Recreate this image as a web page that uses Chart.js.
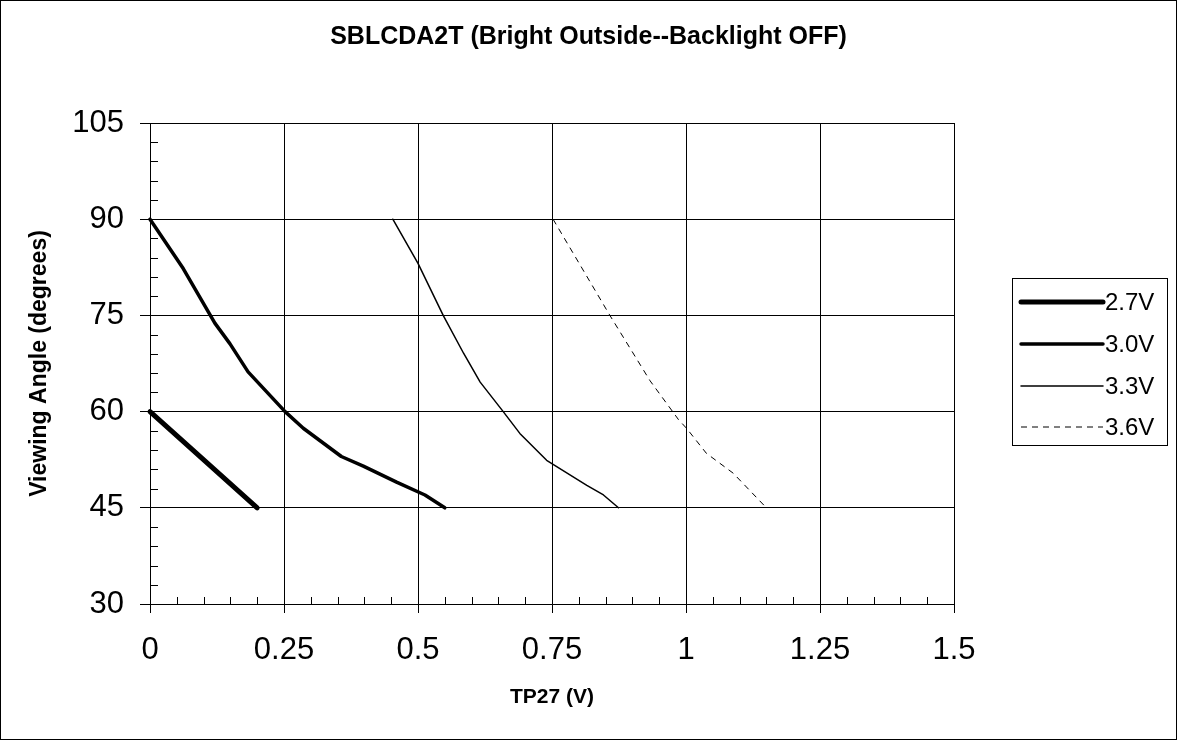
<!DOCTYPE html>
<html><head><meta charset="utf-8">
<script src="https://cdn.jsdelivr.net/npm/chart.js@4/dist/chart.umd.min.js"></script>
<style>html,body{margin:0;padding:0;background:#fff;overflow:hidden}canvas{display:block}</style>
</head><body>
<canvas id="c" width="1177" height="740"></canvas>
<script>
const chartTitle = 'SBLCDA2T (Bright Outside--Backlight OFF)';
const xAxisTitle = 'TP27 (V)';
const yAxisTitle = 'Viewing Angle (degrees)';
const seriesLabels = ['2.7V', '3.0V', '3.3V', '3.6V'];
const xTickLabels = ['0', '0.25', '0.5', '0.75', '1', '1.25', '1.5'];
const yTickLabels = ['30', '45', '60', '75', '90', '105'];

const v27X = [0, 0.2];
const v27Y = [60, 45];
const v30X = [0, 0.062, 0.121, 0.149, 0.183, 0.252, 0.286, 0.357, 0.398, 0.46, 0.513, 0.55];
const v30Y = [90, 82.3, 73.8, 70.6, 66.2, 60, 57.4, 53.0, 51.5, 49.0, 47.0, 45];
const v33X = [0.453, 0.5, 0.547, 0.585, 0.616, 0.659, 0.69, 0.74, 0.815, 0.846, 0.874];
const v33Y = [90, 83.1, 75, 69.1, 64.6, 60, 56.6, 52.4, 48.5, 47, 45];
const v36X = [0.752, 0.858, 0.933, 0.986, 1.001, 1.038, 1.088, 1.15];
const v36Y = [90, 75, 64.8, 58.75, 57.4, 53.5, 50.4, 45];

const seriesX = [v27X, v30X, v33X, v36X];
const seriesY = [v27Y, v30Y, v33Y, v36Y];
const lineWidths = [5, 3.5, 1.5, 1];
const lineDashes = [[], [], [], [6, 5]];

const FONT = "'Liberation Sans', Arial, sans-serif";

const datasets = seriesLabels.map((lab, i) => ({
  label: lab,
  data: seriesX[i].map((x, j) => ({x: x, y: seriesY[i][j]})),
  borderColor: '#000',
  backgroundColor: '#000',
  borderWidth: lineWidths[i],
  borderDash: lineDashes[i],
  borderCapStyle: i === 3 ? 'butt' : 'round',
  borderJoinStyle: 'round',
  pointRadius: 0,
  pointHoverRadius: 0,
  tension: 0,
  fill: false,
  clip: false
}));

const bgPlugin = {
  id: 'bg',
  beforeDraw(chart) {
    const ctx = chart.ctx;
    ctx.save();
    ctx.fillStyle = '#fff';
    ctx.fillRect(0, 0, chart.width, chart.height);
    ctx.restore();
  },
  afterDraw(chart) {
    const ctx = chart.ctx;
    ctx.save();
    ctx.strokeStyle = '#000';
    ctx.lineWidth = 1;
    ctx.strokeRect(0.5, 0.5, chart.width - 1, chart.height - 1);
    ctx.restore();
  }
};

const minorTicks = {
  id: 'minorTicks',
  afterDraw(chart) {
    const ctx = chart.ctx;
    const xs = chart.scales.x, ys = chart.scales.y;
    const ca = chart.chartArea;
    ctx.save();
    ctx.strokeStyle = '#000';
    ctx.lineWidth = 1;
    ctx.beginPath();
    for (let k = 0; k <= 25; k++) {
      const v = 30 + 3 * k;
      if (k % 5 === 0) continue;
      const py = Math.round(ys.getPixelForValue(v)) + 0.5;
      ctx.moveTo(ca.left, py);
      ctx.lineTo(ca.left + 8, py);
    }
    for (let k = 0; k <= 30; k++) {
      if (k % 5 === 0) continue;
      const px = Math.round(xs.getPixelForValue(k * 0.05)) + 0.5;
      ctx.moveTo(px, ca.bottom);
      ctx.lineTo(px, ca.bottom - 7);
    }
    ctx.stroke();
    ctx.restore();
  }
};

const boxLegend = {
  id: 'boxLegend',
  afterDraw(chart) {
    const ctx = chart.ctx;
    const bx = 1012, by = 278, bw = 155, bh = 167;
    ctx.save();
    ctx.strokeStyle = '#000';
    ctx.lineWidth = 1;
    ctx.strokeRect(bx + 0.5, by + 0.5, bw, bh);
    const rows = [302, 344, 386, 427];
    chart.data.datasets.forEach((ds, i) => {
      const y = rows[i];
      ctx.beginPath();
      ctx.strokeStyle = ds.borderColor;
      ctx.lineWidth = ds.borderWidth;
      ctx.setLineDash(ds.borderDash || []);
      ctx.lineCap = ds.borderCapStyle;
      ctx.moveTo(1021, y);
      ctx.lineTo(1103, y);
      ctx.stroke();
      ctx.setLineDash([]);
      ctx.fillStyle = '#000';
      ctx.font = '24px ' + FONT;
      ctx.textAlign = 'left';
      ctx.textBaseline = 'middle';
      ctx.fillText(ds.label, 1105, y + 1);
    });
    ctx.restore();
  }
};

new Chart(document.getElementById('c'), {
  type: 'line',
  data: {datasets: datasets},
  options: {
    responsive: false,
    devicePixelRatio: 1,
    animation: false,
    events: [],
    layout: {padding: 0},
    plugins: {
      legend: {display: false},
      tooltip: {enabled: false},
      title: {
        display: true,
        text: chartTitle,
        color: '#000',
        font: {family: FONT, size: 25, weight: 'bold'},
        padding: {top: 22, bottom: 71}
      }
    },
    scales: {
      x: {
        type: 'linear',
        min: 0, max: 1.5,
        afterFit(s) { s.height = 136; },
        ticks: {
          stepSize: 0.25,
          color: '#000',
          font: {family: FONT, size: 31},
          padding: 19,
          maxRotation: 0,
          autoSkip: false,
          callback: (v, i) => xTickLabels[i]
        },
        grid: {color: '#000', lineWidth: 1, tickLength: 9, drawTicks: true},
        border: {display: true, color: '#000', width: 1},
        title: {
          display: true, text: xAxisTitle, color: '#000',
          font: {family: FONT, size: 21, weight: 'bold'},
          padding: {top: 0, bottom: 30}
        }
      },
      y: {
        type: 'linear',
        min: 30, max: 105,
        afterFit(s) { s.width = 150; },
        ticks: {
          stepSize: 15,
          color: '#000',
          font: {family: FONT, size: 31},
          padding: 16,
          autoSkip: false,
          callback: (v, i) => yTickLabels[i]
        },
        grid: {color: '#000', lineWidth: 1, tickLength: 10, drawTicks: true},
        border: {display: true, color: '#000', width: 1},
        title: {
          display: true, text: yAxisTitle, color: '#000',
          font: {family: FONT, size: 23, weight: 'bold'},
          padding: {top: 26, bottom: 0}
        }
      },
      yRight: {
        type: 'linear',
        position: 'right',
        min: 30, max: 105,
        afterFit(s) { s.width = 223; },
        ticks: {display: false},
        grid: {display: false, drawTicks: false},
        border: {display: false}
      }
    }
  },
  plugins: [bgPlugin, minorTicks, boxLegend]
});
</script>
</body></html>
